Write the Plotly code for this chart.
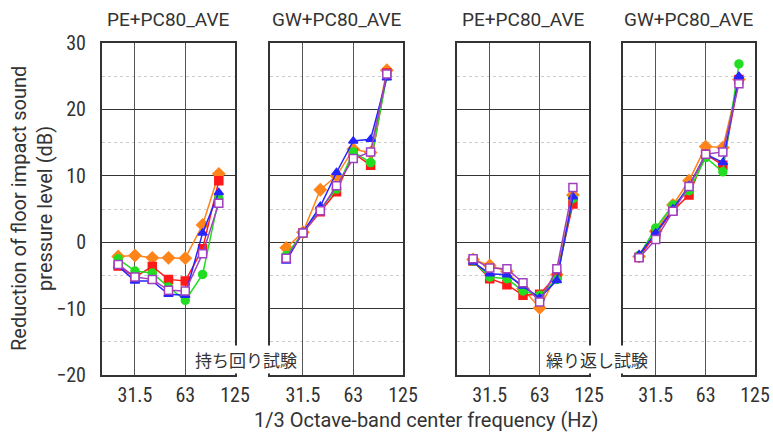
import plotly.graph_objects as go

# ---------------- data ----------------
freqs = [25, 31.5, 40, 50, 63, 80, 100]
x_tick_vals = [31.5, 63, 125]
x_tick_text = ["31.5", "63", "125"]
y_tick_vals = [-20, -10, 0, 10, 20, 30]
panel_titles = ["PE+PC80_AVE", "GW+PC80_AVE", "PE+PC80_AVE", "GW+PC80_AVE"]
group_labels = ["持ち回り試験", "繰り返し試験"]

# panel 1 : PE+PC80_AVE (持ち回り試験)
p1_orange = [-2.15, -2.0, -2.35, -2.35, -2.4, 2.6, 10.3]
p1_red    = [-3.6, -5.25, -3.65, -5.6, -5.85, -1.0, 9.25]
p1_green  = [-2.5, -4.35, -4.65, -6.75, -8.75, -4.85, 6.65]
p1_blue   = [-3.6, -5.85, -5.85, -7.85, -8.0, 1.4, 7.5]
p1_purple = [-3.35, -5.25, -5.6, -7.25, -7.35, -1.75, 5.85]

# panel 2 : GW+PC80_AVE (持ち回り試験)
p2_orange = [-0.85, 1.5, 7.9, 10.0, 14.0, 13.5, 25.9]
p2_red    = [-2.4, 1.4, 4.6, 7.6, 13.4, 11.6, 25.5]
p2_green  = [-2.0, 1.4, 5.0, 8.0, 13.6, 12.0, 25.0]
p2_blue   = [-2.85, 1.5, 5.4, 10.5, 15.25, 15.5, 24.75]
p2_purple = [-2.4, 1.4, 4.75, 8.5, 12.6, 13.6, 25.35]

# panel 3 : PE+PC80_AVE (繰り返し試験)
p3_orange = [-2.6, -3.5, -4.4, -7.0, -9.9, -4.9, 7.1]
p3_red    = [-2.85, -5.5, -6.4, -8.0, -7.85, -5.0, 5.75]
p3_green  = [-2.85, -5.25, -5.5, -7.35, -8.0, -5.6, 6.6]
p3_blue   = [-3.0, -4.75, -4.9, -6.6, -8.4, -5.75, 6.85]
p3_purple = [-2.5, -3.9, -4.0, -6.1, -9.0, -4.0, 8.25]

# panel 4 : GW+PC80_AVE (繰り返し試験)
p4_orange = [-2.15, 1.65, 5.6, 9.25, 14.4, 14.25, 24.5]
p4_red    = [-2.25, 1.25, 4.75, 7.1, 13.25, 11.6, 24.5]
p4_green  = [-2.0, 2.15, 5.6, 7.75, 12.75, 10.6, 26.85]
p4_blue   = [-1.9, 1.4, 5.0, 8.5, 13.25, 12.0, 25.0]
p4_purple = [-2.35, 0.4, 4.65, 8.4, 13.25, 13.6, 23.85]

panels = [
    [p1_orange, p1_red, p1_green, p1_blue, p1_purple],
    [p2_orange, p2_red, p2_green, p2_blue, p2_purple],
    [p3_orange, p3_red, p3_green, p3_blue, p3_purple],
    [p4_orange, p4_red, p4_green, p4_blue, p4_purple],
]

# ---------------- styles ----------------
W, H = 773, 432
styles = [
    dict(color="#FF8419", symbol="diamond", fill="#FF8419"),
    dict(color="#FF1A1A", symbol="square", fill="#FF1A1A"),
    dict(color="#22DD22", symbol="circle", fill="#22DD22"),
    dict(color="#2525FF", symbol="triangle-up", fill="#2525FF"),
    dict(color="#A040C0", symbol="square", fill="#FFFFFF"),
]
x_px = [(102, 235), (270, 403), (457, 589), (623, 755)]
y_dom = [1 - 375 / H, 1 - 43 / H]
TICKFONT = "Roboto Condensed, Liberation Sans Narrow, Roboto, sans-serif"
TEXTFONT = "Roboto, Liberation Sans, sans-serif"
TXT = "#333"

fig = go.Figure()
for i, series in enumerate(panels):
    ax = "" if i == 0 else str(i + 1)
    for j, vals in enumerate(series):
        s = styles[j]
        fig.add_trace(go.Scatter(
            x=freqs, y=vals, mode="lines+markers",
            xaxis="x" + ax, yaxis="y" + ax, showlegend=False,
            line=dict(color=s["color"], width=1.5),
            marker=dict(symbol=s["symbol"], size=8 if s["symbol"] != "diamond" else 9,
                        color=s["fill"], line=dict(color=s["color"], width=1.5)),
        ))

layout = dict(
    width=W, height=H,
    margin=dict(l=0, r=0, t=0, b=0, autoexpand=False),
    paper_bgcolor="white", plot_bgcolor="white",
    font=dict(family=TEXTFONT, size=16, color=TXT),
)
for i in range(4):
    ax = "" if i == 0 else str(i + 1)
    layout["xaxis" + ax] = dict(
        domain=[x_px[i][0] / W, x_px[i][1] / W], anchor="y" + ax,
        type="log", range=[1.30103, 2.09691], automargin=False,
        tickvals=x_tick_vals, ticktext=x_tick_text,
        showgrid=True, gridcolor="#555", gridwidth=1,
        showline=True, linecolor="#333", linewidth=2, mirror=True,
        ticks="", ticklabelstandoff=1, tickfont=dict(family=TICKFONT, size=20, color=TXT),
        zeroline=False,
    )
    layout["yaxis" + ax] = dict(
        domain=y_dom, anchor="x" + ax, range=[-20, 30], automargin=False,
        tickvals=y_tick_vals, showticklabels=(i == 0),
        showgrid=True, gridcolor="#333", gridwidth=1,
        minor=dict(dtick=5, tick0=5, showgrid=True, gridcolor="#cccccc", griddash="dot", gridwidth=1),
        showline=True, linecolor="#333", linewidth=2, mirror=True,
        ticks="", ticklabelstandoff=10, tickfont=dict(family=TICKFONT, size=20, color=TXT),
        zeroline=False,
    )
fig.update_layout(**layout)

def note(text, px, py, size=20, family=TEXTFONT, **kw):
    return dict(text=text, x=px / W, y=1 - py / H, xref="paper", yref="paper",
                xanchor="center", yanchor="middle", showarrow=False,
                font=dict(family=family, size=size, color=TXT), **kw)

annotations = []
for i, t in enumerate(panel_titles):
    cx = (x_px[i][0] + x_px[i][1]) / 2
    annotations.append(note(t, cx, 20, size=19))
annotations.append(note("Reduction of floor impact sound<br>pressure level (dB)", 32, 209, size=20, textangle=-90))
annotations.append(note("1/3 Octave-band center frequency (Hz)", 426, 420, size=20))
annotations.append(note(group_labels[0], 246, 359, size=17, family="Noto Sans CJK JP", bgcolor="white"))
annotations.append(note(group_labels[1], 597, 359, size=17, family="Noto Sans CJK JP", bgcolor="white"))
fig.update_layout(annotations=annotations)

fig.write_html("out.html")
